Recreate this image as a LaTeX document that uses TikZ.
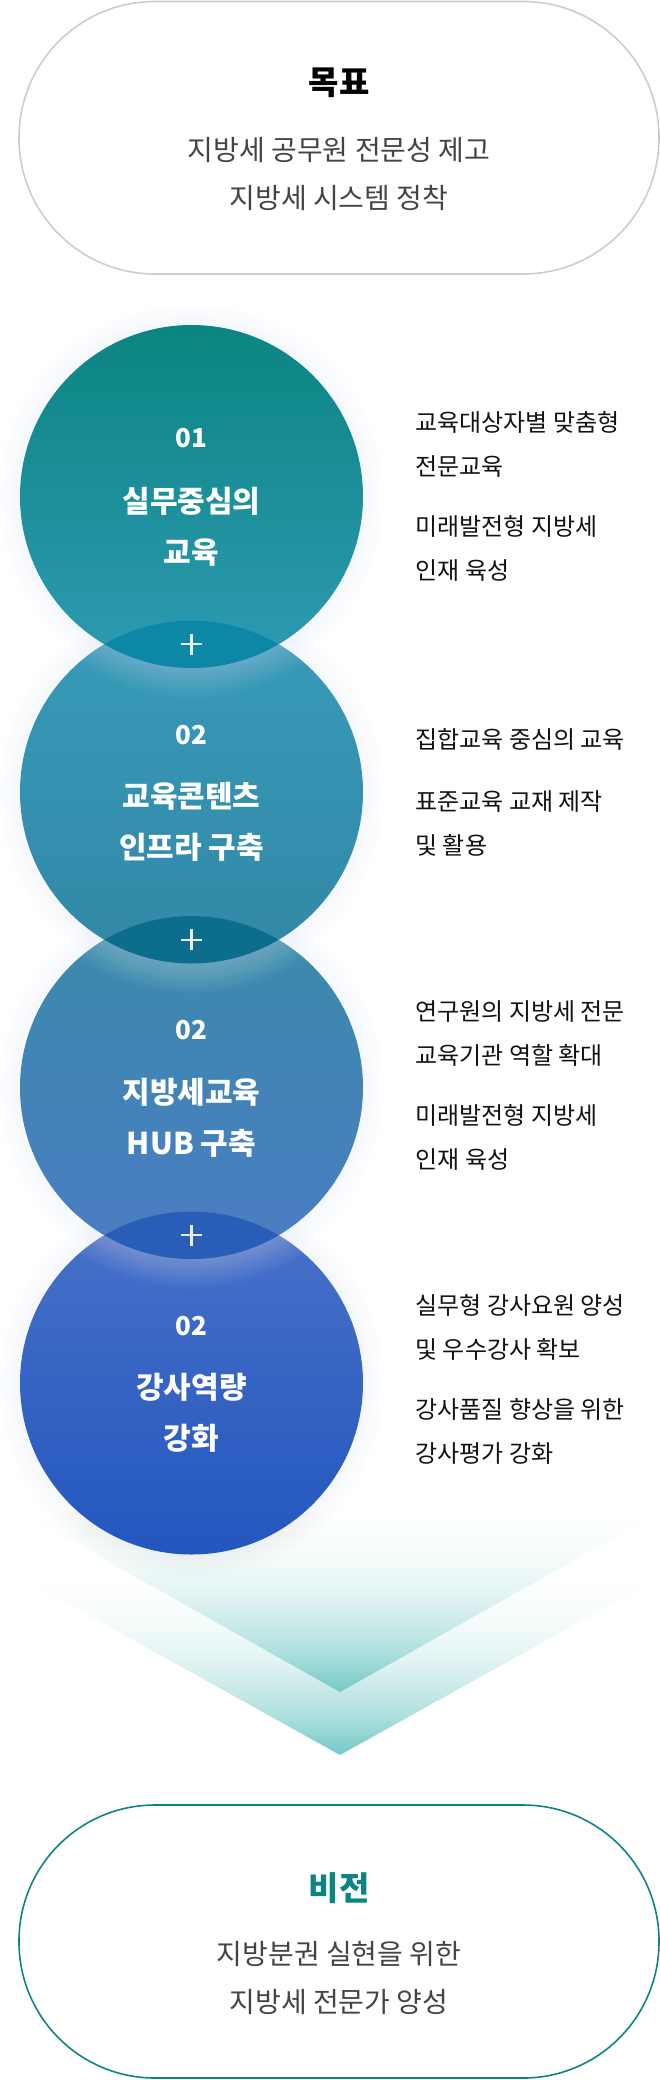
\documentclass[tikz,border=0pt]{standalone}
\usepackage{fontspec}
\setmainfont{Noto Sans CJK KR}
\usetikzlibrary{positioning}
\definecolor{pillgray}{HTML}{CCCCCC}
\definecolor{visionteal}{HTML}{0B8581}
\definecolor{subgray}{HTML}{444444}
\definecolor{chev}{HTML}{74C9C7}
\definecolor{halo}{HTML}{D6E2F2}
\definecolor{cAtop}{HTML}{0B8581}
\definecolor{cAbot}{HTML}{2E9AB4}
\definecolor{cBtop}{HTML}{379BB9}
\definecolor{cBbot}{HTML}{3287A6}
\definecolor{cCtop}{HTML}{3A8BAA}
\definecolor{cCbot}{HTML}{4B7CC4}
\definecolor{cDtop}{HTML}{4872C9}
\definecolor{cDbot}{HTML}{2356BE}
\definecolor{lensAB}{HTML}{0C87A6}
\definecolor{lensBC}{HTML}{0C6E8C}
\definecolor{lensCD}{HTML}{285EB8}
\pgfdeclareverticalshading{chevfade}{100bp}{color(0bp)=(chev); color(25bp)=(chev);
  color(37bp)=(chev!55); color(50bp)=(chev!24); color(62bp)=(chev!7); color(75bp)=(white); color(100bp)=(white)}

\begin{document}
\begin{tikzpicture}[x=1pt,y=-1pt,
  headtxt/.style={font=\bfseries\fontsize{33}{36}\selectfont},
  subtxt/.style={font=\fontsize{28}{48}\selectfont,text=subgray,align=center},
  numtxt/.style={font=\bfseries\fontsize{26}{30}\selectfont,text=white},
  titletxt/.style={font=\bfseries\fontsize{30}{51}\selectfont,text=white,align=center},
  sidetxt/.style={font=\fontsize{24}{44}\selectfont,text=black!93,align=left,anchor=west},
  plusline/.style={white!85!gray,line width=2.1pt}]
\useasboundingbox (0,0) rectangle (660,2080);

% goal
\draw[pillgray,line width=1.6pt,rounded corners=136pt] (19,1.5) rectangle (659,274);
\node[headtxt] (goal) at (339,83) {목표};
\node[subtxt] (goaltxt) at (339,174) {지방세 공무원 전문성 제고\\지방세 시스템 정착};

% chevrons
\shade[shading=chevfade] (20,1577)--(660,1577)--(340,1755)--cycle;
\shade[shading=chevfade] (20,1512)--(660,1512)--(340,1692)--cycle;

% halo round the circles
\foreach \i in {1,...,4}
  \foreach \k in {1,...,12}
    \fill[halo,opacity=0.025] (191.5,{201+295.5*\i}) circle ({171.5+2*\k});

% circles
\shade[top color=cAtop,bottom color=cAbot] (191.5,496.5) circle (171.5);
\shade[top color=cBtop,bottom color=cBbot] (191.5,792) circle (171.5);
\shade[top color=cCtop,bottom color=cCbot] (191.5,1087.5) circle (171.5);
\shade[top color=cDtop,bottom color=cDbot] (191.5,1383) circle (171.5);

% light rim of the upper circle on the lower one, then the overlap
\foreach \i/\lens in {1/lensAB,2/lensBC,3/lensCD}{
  \begin{scope}
    \clip (191.5,{201+295.5*(\i+1)}) circle (171.5);
    \foreach \k in {1,...,15}
      \fill[white,opacity=0.018] (191.5,{201+295.5*\i}) circle ({171.5+2*\k});
  \end{scope}
  \begin{scope}
    \clip (191.5,{201+295.5*\i}) circle (171.5);
    \fill[\lens] (191.5,{201+295.5*(\i+1)}) circle (171.5);
  \end{scope}
  \node[inner sep=0,minimum size=21pt] (p\i) at (191.5,{348.75+295.5*\i}) {};
  \draw[plusline] (p\i.north)--(p\i.south) (p\i.west)--(p\i.east);
}

% circle texts
\node[numtxt] (n1) at (191.5,438.5) {01};
\node[titletxt] (t1) at (191.5,526.5) {실무중심의\\교육};
\node[numtxt] (n2) at (191.5,735) {02};
\node[titletxt] (t2) at (191.5,822) {교육콘텐츠\\인프라 구축};
\node[numtxt] (n3) at (191.5,1030.5) {02};
\node[titletxt] (t3) at (191.5,1117.5) {지방세교육\\HUB 구축};
\node[numtxt] (n4) at (191.5,1326) {02};
\node[titletxt] (t4) at (191.5,1413) {강사역량\\강화};

% side texts
\node[sidetxt] (s1a) at (412,444.5) {교육대상자별 맞춤형\\전문교육};
\node[sidetxt] (s1b) at (412,548.5) {미래발전형 지방세\\인재 육성};
\node[sidetxt] (s2a) at (412,739) {집합교육 중심의 교육};
\node[sidetxt] (s2b) at (412,823) {표준교육 교재 제작\\및 활용};
\node[sidetxt] (s3a) at (412,1033.5) {연구원의 지방세 전문\\교육기관 역할 확대};
\node[sidetxt] (s3b) at (412,1137.5) {미래발전형 지방세\\인재 육성};
\node[sidetxt] (s4a) at (412,1327) {실무형 강사요원 양성\\및 우수강사 확보};
\node[sidetxt] (s4b) at (412,1431) {강사품질 향상을 위한\\강사평가 강화};

% vision
\draw[visionteal,line width=1.6pt,rounded corners=136pt] (19,1805) rectangle (659,2078);
\node[headtxt,text=visionteal] (vision) at (339,1888) {비전};
\node[subtxt] (visiontxt) at (339,1977.5) {지방분권 실현을 위한\\지방세 전문가 양성};
\end{tikzpicture}
\end{document}
